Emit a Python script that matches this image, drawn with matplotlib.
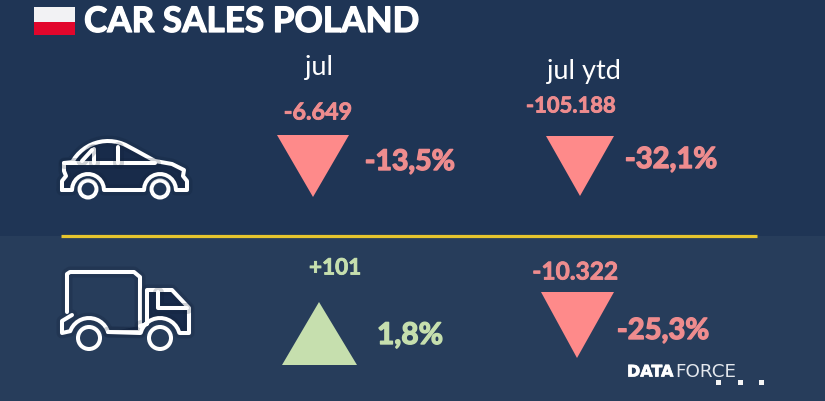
import matplotlib as mpl
mpl.use('Agg')
import matplotlib.pyplot as plt
import matplotlib.patheffects as pe
import numpy as np
from matplotlib.patches import Polygon, Rectangle, Circle

plt.rcParams['font.family'] = ['Lato', 'DejaVu Sans']

title = "CAR SALES POLAND"
periods = ["jul", "jul ytd"]
cars_abs = ["-6.649", "-105.188"]
cars_pct = ["-13,5%", "-32,1%"]
trucks_abs = ["+101", "-10.322"]
trucks_pct = ["1,8%", "-25,3%"]

RED = '#fe8a8a'
RED_TXT = '#ee8c8e'
GREEN = '#c6dfae'
WHITE = '#ffffff'
ICON_FILL = '#182b4a'

fig = plt.figure(figsize=(8.25, 4.01), dpi=100)
ax = fig.add_axes([0, 0, 1, 1])
ax.set_xlim(0, 825)
ax.set_ylim(401, 0)
ax.axis('off')

# backgrounds
ax.add_patch(Rectangle((0, 0), 825, 236, color='#1f3555', lw=0))
ax.add_patch(Rectangle((0, 236), 825, 165, color='#273d5b', lw=0))

# flag
ax.add_patch(Rectangle((34, 7), 41, 15, color='#f2f2f4', lw=0))
ax.add_patch(Rectangle((34, 22), 41, 13, color='#e2062c', lw=0))


def label(x, y, s, color, size, ha='center', weight='bold', thick=0.0, family=None):
    t = ax.text(x, y, s, color=color, fontsize=size, fontweight=weight, ha=ha, va='center', family=family)
    if thick:
        t.set_path_effects([pe.withStroke(linewidth=thick, foreground=color)])
    return t


label(84, 22, title, WHITE, 25.3, ha='left', thick=0.9)

# yellow divider
ax.plot([61, 757], [236, 236], color='#e6c52e', lw=2.3, solid_capstyle='butt')


def triangle(xl, xr, ybase, xtip, ytip, color):
    ax.add_patch(Polygon([(xl, ybase), (xr, ybase), (xtip, ytip)], closed=True, color=color, lw=0))


triangle(277, 349, 135, 313, 197, RED)
triangle(546, 614, 136, 580, 196, RED)
triangle(282, 357, 365, 319, 302, GREEN)
triangle(541, 614, 292, 577, 358, RED)

# period headers
label(319, 68, periods[0], WHITE, 19.5, weight='normal')
label(584, 71, periods[1], WHITE, 19.5, weight='normal')

# absolute changes
label(318, 113, cars_abs[0], RED_TXT, 16.8, thick=0.6)
label(571, 106, cars_abs[1], RED_TXT, 15.8, thick=0.6)
label(335, 268, trucks_abs[0], GREEN, 16.2, thick=0.6)
label(575, 272, trucks_abs[1], RED_TXT, 17.6, thick=0.6)

# percentages
label(410, 162, cars_pct[0], RED_TXT, 20.5, thick=1.0)
label(671, 160, cars_pct[1], RED_TXT, 21, thick=1.0)
label(410, 335, trucks_pct[0], GREEN, 21.5, thick=1.0)
label(663, 331, trucks_pct[1], RED_TXT, 21, thick=1.0)


def arc(cx, cy, r, a0, a1, n=14):
    t = np.radians(np.linspace(a0, a1, n))
    return [(cx + r * np.cos(v), cy - r * np.sin(v)) for v in t]


def stroke(points, lw=2.9, fill=None):
    xs = [p[0] for p in points]
    ys = [p[1] for p in points]
    if fill:
        ax.fill(xs, ys, color=fill, lw=0)
    # soft dark shadow under the icon line
    ax.plot(xs, ys, color='#0f1e36', lw=lw + 5, alpha=0.2, solid_joinstyle='round', solid_capstyle='round')
    ax.plot(xs, ys, color=WHITE, lw=lw, solid_joinstyle='round', solid_capstyle='round')


def wheel(x, y, r):
    ax.add_patch(Circle((x, y), r, fill=False, ec=WHITE, lw=2.9))


# car icon
stroke([(62, 190), (62, 181), (66, 176), (64, 171), (64, 163), (72, 162)]
       + arc(108, 182, 41, 150, 65)
       + [(135, 150), (155, 161), (172, 164), (184, 170), (183, 176), (187, 181), (187, 190), (176, 190)]
       + arc(160, 190, 16, 0, 180)
       + arc(88, 190, 16, 0, 180)
       + [(62, 190)], fill=ICON_FILL)
stroke([(64, 163), (155, 163)])
stroke([(94, 149), (94, 163)])
stroke([(118, 147), (118, 163)])
stroke([(82, 161), (92, 150)])
wheel(88, 189, 8.5)
wheel(160, 189, 8.5)

# truck icon
stroke([(67, 312), (67, 274), (70, 272), (134, 272), (140, 277), (140, 332), (108, 332)]
       + arc(89, 338, 20, 20, 160)
       + [(62, 333), (62, 321), (72, 315)])
stroke([(140, 326), (147, 324), (147, 290), (172, 290), (189, 308), (189, 333), (180, 333)]
       + arc(160, 338, 20, 15, 165)
       + [(140, 333), (108, 332)], fill=ICON_FILL)
stroke([(158, 292), (158, 308), (187, 308)])
wheel(89, 338, 11)
wheel(160, 338, 11)

# logo
label(627, 372, "DATA", WHITE, 11.5, ha='left', family='DejaVu Sans', thick=0.5)
label(675, 372, "FORCE", '#e4e8ee', 13.2, ha='left', weight='normal', family='DejaVu Sans')
for sx in [718, 740, 761]:
    ax.add_patch(Rectangle((sx - 2.5, 379.5), 5, 5, color='#f4f4f4', lw=0))

fig.savefig('out.png', dpi=100, facecolor='#1f3555')
